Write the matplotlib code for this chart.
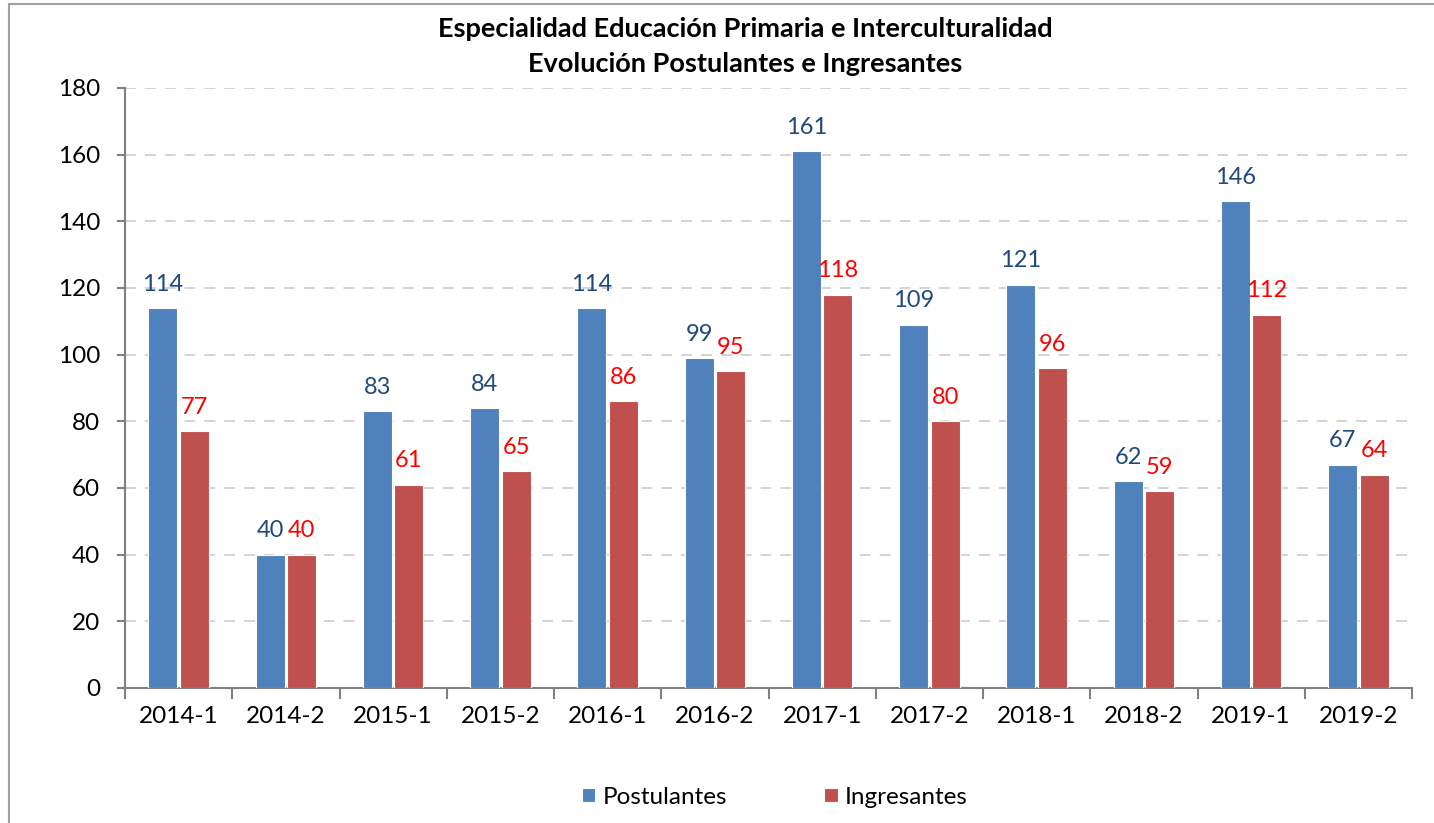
import matplotlib.pyplot as plt
from matplotlib.patches import Rectangle
import numpy as np

categorias = ["2014-1", "2014-2", "2015-1", "2015-2", "2016-1", "2016-2",
              "2017-1", "2017-2", "2018-1", "2018-2", "2019-1", "2019-2"]
postulantes = [114, 40, 83, 84, 114, 99, 161, 109, 121, 62, 146, 67]
ingresantes = [77, 40, 61, 65, 86, 95, 118, 80, 96, 59, 112, 64]

plt.rcParams['font.family'] = ['Lato', 'DejaVu Sans']

fig = plt.figure(figsize=(14.34, 8.23), dpi=100)
ax = fig.add_axes([125 / 1434, 135 / 823, (1412 - 125) / 1434, 600 / 823])

# marco del grafico
fig.patches.append(Rectangle((9 / 1434, -0.1), 1.2, (823 - 4) / 823 + 0.1,
                             transform=fig.transFigure, fill=False,
                             edgecolor="#a0a0a0", linewidth=1.5))

x = np.arange(len(categorias))
w = 0.27
off = 0.147
b1 = ax.bar(x - off, postulantes, w, color="#4F81BD", edgecolor="white",
            linewidth=0.8, label="Postulantes", zorder=3)
b2 = ax.bar(x + off, ingresantes, w, color="#C0504D", edgecolor="white",
            linewidth=0.8, label="Ingresantes", zorder=3)

for xi, v in zip(x, postulantes):
    ax.text(xi - off, v + 4, str(v), ha="center", va="bottom",
            fontsize=17, color="#1F497D")
for xi, v in zip(x, ingresantes):
    ax.text(xi + off, v + 4, str(v), ha="center", va="bottom",
            fontsize=17, color="#FF0000")

ax.set_xlim(-0.5, len(categorias) - 0.5)
ax.set_ylim(0, 180)
ax.set_yticks(range(0, 181, 20))
ax.grid(axis="y", color="#d0d0d0", linestyle=(0, (6, 5)), linewidth=1.3, zorder=0)

ax.set_xticks(np.arange(-0.5, len(categorias), 1))
ax.set_xticklabels([])
ax.set_xticks(x, minor=True)
ax.set_xticklabels(categorias, minor=True)
ax.tick_params(axis="x", which="major", length=8, width=1.5, color="#808080")
ax.tick_params(axis="x", which="minor", length=0, labelsize=17.5, pad=13)
ax.tick_params(axis="y", length=6, width=1.5, color="#808080", labelsize=17.5, pad=12)

for s in ["top", "right"]:
    ax.spines[s].set_visible(False)
for s in ["left", "bottom"]:
    ax.spines[s].set_color("#808080")
    ax.spines[s].set_linewidth(1.5)

fig.text(745 / 1434, 1 - 29 / 823, "Especialidad Educación Primaria e Interculturalidad",
         ha="center", va="center", fontsize=19.5, fontweight="bold")
fig.text(745 / 1434, 1 - 64 / 823, "Evolución Postulantes e Ingresantes",
         ha="center", va="center", fontsize=19.5, fontweight="bold")

fig.legend(handles=[b1, b2], loc="center", bbox_to_anchor=(775 / 1434, 1 - 797 / 823),
           ncol=2, frameon=False, fontsize=17.5, handlelength=0.55, handleheight=0.55,
           handletextpad=0.3, columnspacing=4.0)

fig.savefig("out.png", dpi=100)
